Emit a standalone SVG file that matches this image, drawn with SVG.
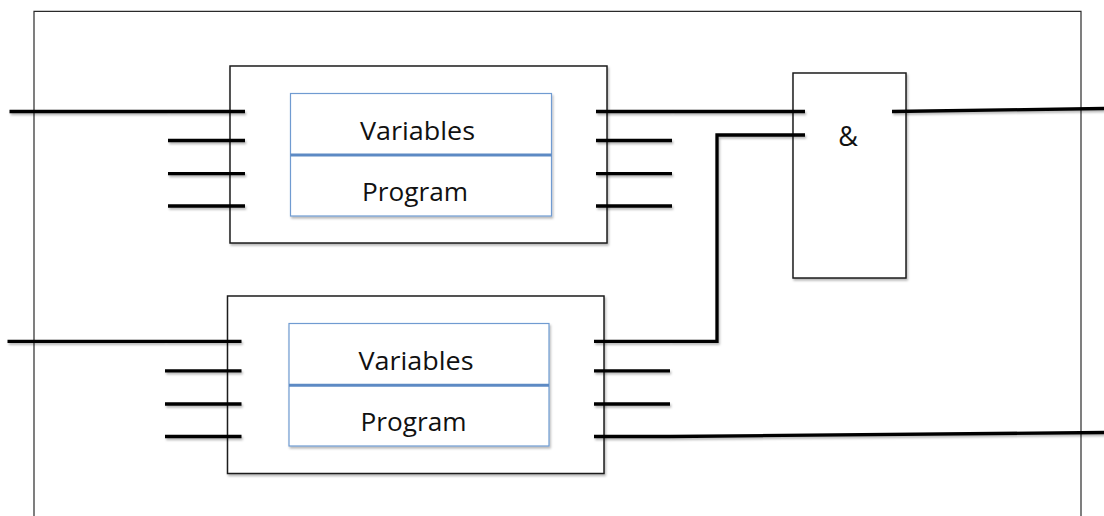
<svg xmlns="http://www.w3.org/2000/svg" width="1104" height="516" viewBox="0 0 1104 516">
  <defs>
    <!-- soft drop shadow; user-space region so flat lines keep it too -->
    <filter id="shade" filterUnits="userSpaceOnUse" x="0" y="0" width="1104" height="516">
      <feDropShadow dx="1.2" dy="2" stdDeviation="1.2" flood-color="#000" flood-opacity="0.28"/>
    </filter>
    <style>
      .frame { fill: none; stroke: #2a2a2a; stroke-width: 1.2; }
      .block { fill: #fff; stroke: #1e1e1e; stroke-width: 1.5; filter: url(#shade); }
      .inner { fill: #fff; stroke: #6f9bd1; stroke-width: 1.2; filter: url(#shade); }
      .divider { stroke: #5d8ac4; stroke-width: 3; }
      .pin { stroke: #000; stroke-width: 3.3; fill: none; filter: url(#shade); }
      .wire { stroke: #000; stroke-width: 3.3; fill: none; stroke-linejoin: miter; filter: url(#shade); }
      .label { font-family: "Open Sans", "Liberation Sans", sans-serif; font-size: 25px; fill: #111; text-anchor: middle; }
      .amp { font-family: "Open Sans", "Liberation Sans", sans-serif; font-size: 27px; fill: #111; text-anchor: middle; }
    </style>
  </defs>

  <rect width="1104" height="516" fill="#fff"/>

  <!-- enclosing frame, open at the bottom -->
  <g id="frame">
    <path class="frame" d="M34,516 V11.3 H1081 V516"/>
  </g>

  <!-- upper program block -->
  <g id="block-top">
    <rect class="block" x="230" y="66" width="377" height="177"/>
    <rect class="inner" x="290.5" y="93.5" width="261" height="122.5"/>
    <line class="divider" x1="290.5" y1="155" x2="551.5" y2="155"/>
    <text class="label" x="417.5" y="140" textLength="115" lengthAdjust="spacingAndGlyphs">Variables</text>
    <text class="label" x="415" y="201" textLength="106" lengthAdjust="spacingAndGlyphs">Program</text>
    <g class="pin">
      <line x1="168" y1="111.5" x2="245" y2="111.5"/>
      <line x1="168" y1="140.5" x2="245" y2="140.5"/>
      <line x1="168" y1="173.7" x2="245" y2="173.7"/>
      <line x1="168" y1="206" x2="245" y2="206"/>
      <line x1="596" y1="111.5" x2="672" y2="111.5"/>
      <line x1="596" y1="140.5" x2="672" y2="140.5"/>
      <line x1="596" y1="173.7" x2="672" y2="173.7"/>
      <line x1="596" y1="206" x2="672" y2="206"/>
    </g>
  </g>

  <!-- lower program block -->
  <g id="block-bottom">
    <rect class="block" x="227.5" y="296" width="376.5" height="177.5"/>
    <rect class="inner" x="289" y="323.5" width="260" height="122.5"/>
    <line class="divider" x1="289" y1="385.3" x2="549" y2="385.3"/>
    <text class="label" x="416" y="370" textLength="115" lengthAdjust="spacingAndGlyphs">Variables</text>
    <text class="label" x="413.5" y="431" textLength="106" lengthAdjust="spacingAndGlyphs">Program</text>
    <g class="pin">
      <line x1="165" y1="341.3" x2="241.5" y2="341.3"/>
      <line x1="165" y1="370.8" x2="241.5" y2="370.8"/>
      <line x1="165" y1="404" x2="241.5" y2="404"/>
      <line x1="165" y1="436.5" x2="241.5" y2="436.5"/>
      <line x1="594" y1="341.3" x2="670" y2="341.3"/>
      <line x1="594" y1="370.8" x2="670" y2="370.8"/>
      <line x1="594" y1="404" x2="670" y2="404"/>
      <line x1="594" y1="436.5" x2="670" y2="436.5"/>
    </g>
  </g>

  <!-- AND gate -->
  <g id="and-gate">
    <rect class="block" x="793" y="73" width="113" height="205"/>
    <text class="amp" x="848" y="145.5">&amp;</text>
  </g>

  <!-- wiring between blocks, gate and frame -->
  <g id="connectors">
    <line class="wire" x1="9.5" y1="111.5" x2="168" y2="111.5"/>
    <line class="wire" x1="7.5" y1="341.3" x2="165" y2="341.3"/>
    <line class="wire" x1="672" y1="111.5" x2="805" y2="111.5"/>
    <path class="wire" d="M670,341.3 H717 V135 H805"/>
    <line class="wire" x1="892" y1="111.5" x2="1104" y2="108.5"/>
    <line class="wire" x1="670" y1="436.5" x2="1104" y2="432.5"/>
  </g>
</svg>
